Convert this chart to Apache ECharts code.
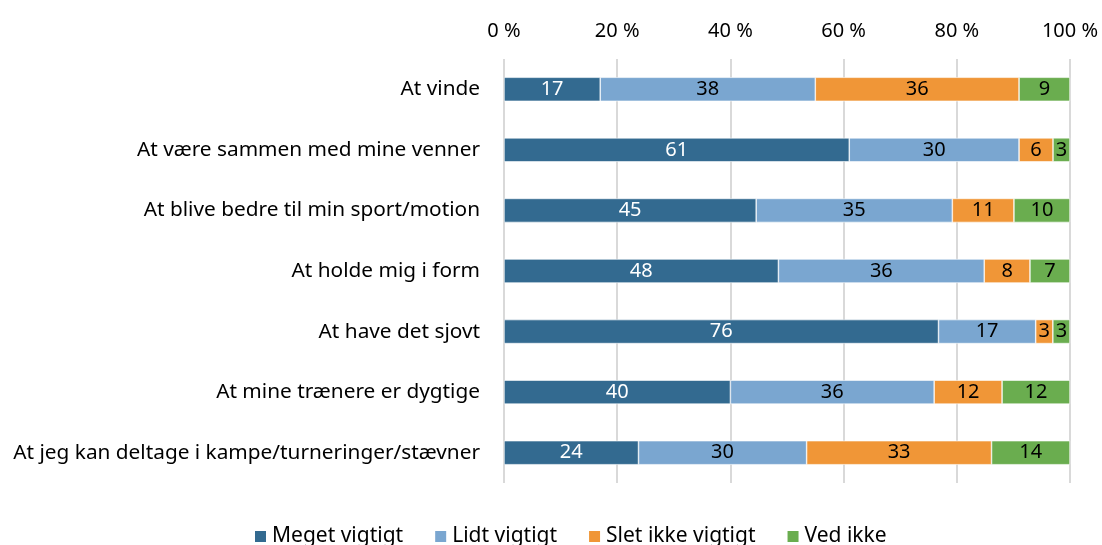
<!DOCTYPE html>
<html>
<head>
<meta charset="utf-8">
<script src="https://cdn.jsdelivr.net/npm/echarts@6/dist/echarts.min.js"></script>
<style>
  html, body { margin: 0; padding: 0; background: #fff; }
  #chart { width: 1102px; height: 545px; }
</style>
</head>
<body>
<div id="chart"></div>
<script>
// kategorier, oppefra og ned
var categories = [
  'At vinde',
  'At være sammen med mine venner',
  'At blive bedre til min sport/motion',
  'At holde mig i form',
  'At have det sjovt',
  'At mine trænere er dygtige',
  'At jeg kan deltage i kampe/turneringer/stævner'
]
var meget = [17, 61, 45, 48, 76, 40, 24]
var lidt = [38, 30, 35, 36, 17, 36, 30]
var slet = [36, 6, 11, 8, 3, 12, 33]
var vedIkke = [9, 3, 10, 7, 3, 12, 14]
var tickLabels = ['0 %', '20 %', '40 %', '60 %', '80 %', '100 %']

var seriesNames = ['Meget vigtigt', 'Lidt vigtigt', 'Slet ikke vigtigt', 'Ved ikke']
var colors = ['#336a90', '#7aa6d0', '#f09637', '#6aad4f']
var raw = [meget, lidt, slet, vedIkke]

// 100 % stablet: normaliser pr. række, vis de oprindelige tal
var totals = categories.map(function (c, i) {
  return raw.reduce(function (s, arr) { return s + arr[i] }, 0)
})

var font = '"Noto Sans", sans-serif'

var series = raw.map(function (arr, k) {
  return {
    name: seriesNames[k],
    type: 'bar',
    stack: 'total',
    barWidth: 24,
    itemStyle: { color: colors[k], borderColor: '#ffffff', borderWidth: 0.6 },
    label: {
      show: true,
      position: 'inside',
      fontFamily: font,
      fontSize: 20,
      color: k === 0 ? '#ffffff' : '#000000',
      formatter: function (p) { return arr[p.dataIndex] }
    },
    data: arr.map(function (v, i) { return v / totals[i] * 100 })
  }
})

var myChart = echarts.init(document.getElementById('chart'))
var option = {
  animation: false,
  backgroundColor: '#ffffff',
  legend: {
    data: seriesNames,
    bottom: -7,
    left: 248,
    itemWidth: 13,
    itemHeight: 13,
    itemGap: 30,
    icon: 'rect',
    textStyle: { fontFamily: font, fontSize: 21, color: '#000' }
  },
  grid: {
    left: 504,
    right: 32,
    top: 59,
    bottom: 62
  },
  xAxis: {
    type: 'value',
    position: 'top',
    min: 0,
    max: 100,
    interval: 20,
    axisLine: { show: false },
    axisTick: { show: false },
    axisLabel: {
      fontFamily: font,
      fontSize: 20,
      color: '#000',
      margin: 18,
      formatter: function (v) { return tickLabels[v / 20] }
    },
    splitLine: { show: true, lineStyle: { color: '#d9d9d9', width: 2 } }
  },
  yAxis: {
    type: 'category',
    inverse: true,
    data: categories,
    axisLine: { show: false },
    axisTick: { show: false },
    axisLabel: { fontFamily: font, fontSize: 20.8, color: '#000', margin: 24 }
  },
  series: series
}
myChart.setOption(option)
</script>
</body>
</html>
